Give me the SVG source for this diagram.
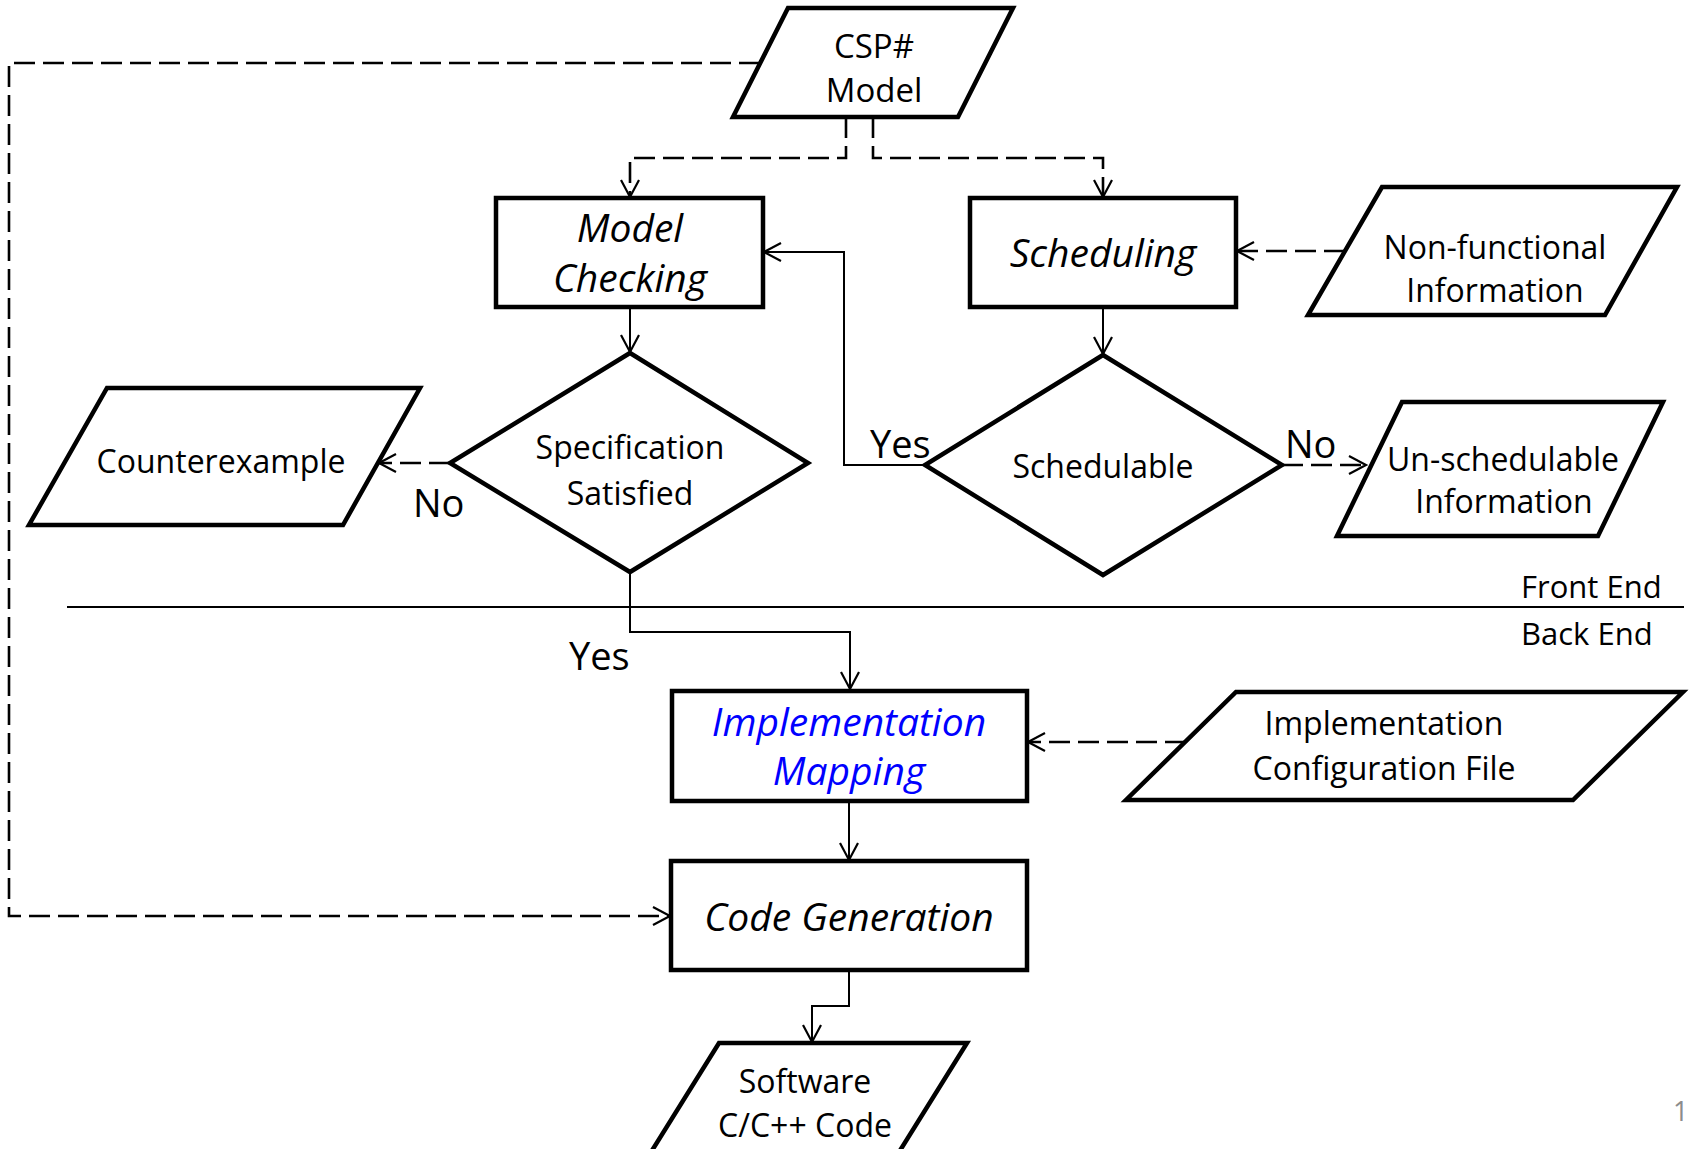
<svg xmlns="http://www.w3.org/2000/svg" width="1690" height="1149" viewBox="0 0 1690 1149">
  <style>
    .shape { fill: #ffffff; stroke: #000000; stroke-width: 4.5; stroke-linejoin: miter; }
    .flow { fill: none; stroke: #000000; stroke-width: 2; }
    .dash { fill: none; stroke: #000000; stroke-width: 2.6; stroke-dasharray: 21 8; }
    .rule { fill: none; stroke: #000000; stroke-width: 2; }
    text { font-family: "Open Sans", "Noto Sans", "DejaVu Sans", sans-serif; fill: #000000; }
    .lbl { font-size: 32px; text-anchor: middle; }
    .proc { font-size: 39px; font-style: italic; text-anchor: middle; }
    .blue { fill: #0000ff; }
    .branch { font-size: 38px; }
    .side { font-size: 31px; }
    .page { font-size: 27px; fill: #8c8c8c; }
  </style>
  <defs>
    <marker id="arrow" viewBox="-20 -12 24 24" markerWidth="24" markerHeight="24" refX="0" refY="0" markerUnits="userSpaceOnUse" orient="auto" overflow="visible">
      <path d="M-17,-9 L0,0 L-17,9" fill="none" stroke="#000000" stroke-width="2.2"/>
    </marker>
  </defs>

  <!-- front end / back end separator -->
  <line class="rule" x1="67" y1="607" x2="1684" y2="607"/>
  <text class="side" x="1521" y="598">Front End</text>
  <text class="side" x="1521" y="645">Back End</text>

  <!-- connectors -->
  <g id="connectors">
    <path class="dash" d="M846,117 V158 H630 V197" marker-end="url(#arrow)"/>
    <path class="dash" d="M873,117 V158 H1103 V197" marker-end="url(#arrow)"/>
    <path class="dash" d="M760,63 H9 V916 H670" marker-end="url(#arrow)"/>
    <path class="flow" d="M630,307 V352" marker-end="url(#arrow)"/>
    <path class="flow" d="M1103,307 V354" marker-end="url(#arrow)"/>
    <path class="dash" d="M450,463 H379" marker-end="url(#arrow)"/>
    <path class="flow" d="M925,465 H844 V252 H764" marker-end="url(#arrow)"/>
    <path class="dash" d="M1282,465 H1366" marker-end="url(#arrow)"/>
    <path class="dash" d="M1345,251 H1237" marker-end="url(#arrow)"/>
    <path class="flow" d="M630,572 V632 H850 V689" marker-end="url(#arrow)"/>
    <path class="dash" d="M1186,742 H1028" marker-end="url(#arrow)"/>
    <path class="flow" d="M849,801 V860" marker-end="url(#arrow)"/>
    <path class="flow" d="M849,970 V1006 H812 V1042" marker-end="url(#arrow)"/>

    <text class="branch" x="870" y="458">Yes</text>
    <text class="branch" x="413" y="517">No</text>
    <text class="branch" x="1285" y="458">No</text>
    <text class="branch" x="569" y="670">Yes</text>
  </g>

  <g id="csp-model">
    <polygon class="shape" points="788,8 1013,8 958,117 733,117"/>
    <text class="lbl" x="874" y="58" style="font-size:33px">CSP#</text>
    <text class="lbl" x="874" y="102" style="font-size:33px">Model</text>
  </g>

  <g id="model-checking">
    <rect class="shape" x="496" y="198" width="267" height="109"/>
    <text class="proc" x="630" y="242">Model</text>
    <text class="proc" x="630" y="292">Checking</text>
  </g>

  <g id="scheduling">
    <rect class="shape" x="970" y="198" width="266" height="109"/>
    <text class="proc" x="1103" y="267">Scheduling</text>
  </g>

  <g id="non-functional">
    <polygon class="shape" points="1382,187 1677,187 1605,315 1308,315"/>
    <text class="lbl" x="1495" y="259">Non-functional</text>
    <text class="lbl" x="1495" y="302">Information</text>
  </g>

  <g id="spec-satisfied">
    <polygon class="shape" points="630,353 808,463 630,572 450,463"/>
    <text class="lbl" x="630" y="459">Specification</text>
    <text class="lbl" x="630" y="505">Satisfied</text>
  </g>

  <g id="counterexample">
    <polygon class="shape" points="107,388 420,388 343,525 29,525"/>
    <text class="lbl" x="221" y="473">Counterexample</text>
  </g>

  <g id="schedulable">
    <polygon class="shape" points="1103,355 1282,465 1103,575 925,465"/>
    <text class="lbl" x="1103" y="478">Schedulable</text>
  </g>

  <g id="unschedulable">
    <polygon class="shape" points="1402,402 1663,402 1598,536 1337,536"/>
    <text class="lbl" x="1503" y="471">Un-schedulable</text>
    <text class="lbl" x="1504" y="513">Information</text>
  </g>

  <g id="implementation-mapping">
    <rect class="shape" x="672" y="691" width="355" height="110"/>
    <text class="proc blue" x="849" y="736">Implementation</text>
    <text class="proc blue" x="849" y="785">Mapping</text>
  </g>

  <g id="configuration-file">
    <polygon class="shape" points="1236,692 1683,692 1573,800 1126,800"/>
    <text class="lbl" x="1384" y="735">Implementation</text>
    <text class="lbl" x="1384" y="780">Configuration File</text>
  </g>

  <g id="code-generation">
    <rect class="shape" x="671" y="861" width="356" height="109"/>
    <text class="proc" x="849" y="931">Code Generation</text>
  </g>

  <g id="software-code">
    <polygon class="shape" points="719,1043 967,1043 891,1165 643,1165"/>
    <text class="lbl" x="805" y="1093">Software</text>
    <text class="lbl" x="805" y="1137">C/C++ Code</text>
  </g>

  <text class="page" x="1673" y="1121">1</text>
</svg>
